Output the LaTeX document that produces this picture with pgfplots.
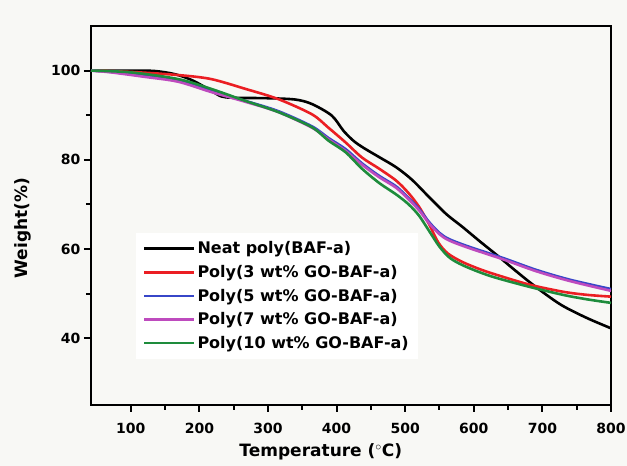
\documentclass[border=0pt]{standalone}
\usepackage{pgfplots}
\pgfplotsset{compat=1.18}
\usepackage{fontspec}
\setmainfont{DejaVu Sans}
\usetikzlibrary{backgrounds}

\definecolor{bgc}{RGB}{248,248,245}
\definecolor{cred}{RGB}{235,30,35}
\definecolor{cblue}{RGB}{55,70,200}
\definecolor{cpurp}{RGB}{190,75,190}
\definecolor{cgreen}{RGB}{30,140,60}

\begin{document}
\begin{tikzpicture}
\begin{axis}[
  scale only axis,
  width=520pt, height=379pt,
  xmin=42, xmax=800,
  ymin=25, ymax=110,
  xtick={100,200,...,800},
  ytick={40,60,80,100},
  minor x tick num=1,
  minor y tick num=1,
  xtick pos=left, ytick pos=left,
  tick align=outside,
  major tick length=7pt,
  minor tick length=5pt,
  every tick/.style={black, line width=2pt},
  axis line style={line width=2.4pt},
  /pgf/number format/assume math mode=true,
  tick label style={font=\bfseries\fontsize{14}{16}\selectfont},
  xticklabel style={yshift=-8pt},
  xlabel={Temperature ($^\circ$C)},
  ylabel={Weight(\%)},
  label style={font=\bfseries\fontsize{17}{19}\selectfont},
  ylabel style={at={(axis description cs:-0.108,0.467)}, anchor=south, rotate=0},
  xlabel style={at={(axis description cs:0.442,0)}, anchor=center, yshift=-47pt},
  legend style={at={(rel axis cs:0.086,0.455)}, anchor=north west,
    draw=none, fill=white, inner sep=7pt,
    font=\bfseries\fontsize{16}{18}\selectfont, row sep=6pt},
  legend cell align=left,
  legend image code/.code={\path (0pt,0pt) -- (50pt,0pt);
    \draw[#1] (0pt,0pt) -- (44pt,0pt);},
  every axis plot/.append style={line width=2.6pt, smooth, tension=0.5},
]

\addplot[black] coordinates {
(42,100) (100,100) (135,99.9) (164,99.2) (190,97.8) (217,95.5) (232,94.2)
(250,93.9) (300,93.8) (340,93.5) (364,92.5) (393,89.9) (410,86.5) (425,84.2)
(440,82.6) (462,80.6) (487,78.3) (510,75.5) (535,71.6) (560,67.8) (583,65)
(608,61.8) (633,58.7) (657,55.6) (681,52.6) (705,49.8) (730,47.2) (765,44.5) (800,42.2)
};
\addlegendentry{Neat poly(BAF-a)}

\addplot[cred] coordinates {
(42,100) (100,99.7) (169,99.0) (217,98.1) (267,95.9) (315,93.6) (364,90.2)
(388,87.2) (413,83.9) (437,80.5) (462,78.0) (487,75.3) (505,72.5) (520,69.5)
(535,65.5) (548,61.5) (562,59) (583,57.1) (608,55.5) (633,54.2) (681,52)
(730,50.4) (765,49.7) (800,49.3)
};
\addlegendentry{Poly(3 wt\% GO-BAF-a)}

\addplot[cblue] coordinates {
(42,100) (71,99.7) (120,98.8) (169,97.7) (217,95.4) (267,93.2) (315,90.9)
(364,87.5) (388,84.9) (413,82.4) (437,79.2) (462,76.4) (487,74) (505,71.4)
(520,69) (535,66) (550,63.6) (564,62.2) (593,60.5) (642,58) (691,55.3)
(740,53.1) (800,51.0)
};
\addlegendentry{Poly(5 wt\% GO-BAF-a)}

\addplot[cpurp] coordinates {
(42,100) (71,99.6) (120,98.6) (169,97.5) (217,95.2) (267,93.0) (315,90.7)
(364,87.2) (388,84.6) (413,82.0) (437,78.9) (462,76.1) (487,73.7) (505,71.1)
(520,68.7) (535,65.7) (550,63.3) (564,61.9) (593,60.2) (642,57.7) (691,55.0)
(740,52.8) (800,50.6)
};
\addlegendentry{Poly(7 wt\% GO-BAF-a)}

\addplot[cgreen] coordinates {
(42,100) (100,99.6) (169,98.1) (217,95.9) (267,93.2) (315,90.7) (364,87.3)
(388,84.3) (413,81.7) (437,78.0) (462,74.8) (487,72.2) (505,70) (520,67.5)
(535,64) (550,60.5) (565,58) (583,56.4) (608,54.8) (633,53.5) (681,51.5)
(730,49.7) (765,48.7) (800,47.9)
};
\addlegendentry{Poly(10 wt\% GO-BAF-a)}

\end{axis}
\pgfresetboundingbox
\path (current axis.south west)++(-91pt,-61pt) coordinate (bbA);
\path (current axis.north east)++(16pt,26pt) coordinate (bbB);
\useasboundingbox (bbA) rectangle (bbB);
\begin{scope}[on background layer]
\fill[bgc] (bbA) rectangle (bbB);
\end{scope}
\end{tikzpicture}
\end{document}
